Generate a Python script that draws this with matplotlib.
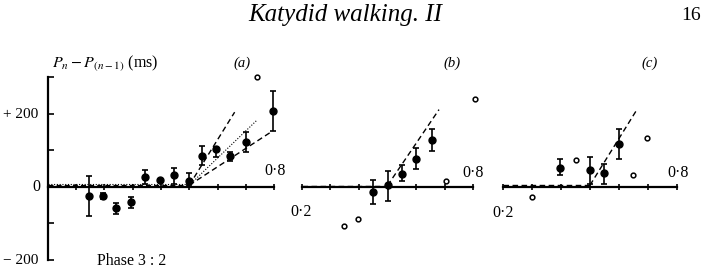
import matplotlib
matplotlib.use("Agg")
import matplotlib.pyplot as plt

plt.rcParams['font.family'] = ['Liberation Serif', 'DejaVu Serif']
plt.rcParams['mathtext.fontset'] = 'stix'

# ---------------- data ----------------
# panel (a)
a_phase = [0.145, 0.195, 0.24, 0.295, 0.345, 0.395, 0.445, 0.5, 0.545, 0.595, 0.645, 0.7, 0.795]
a_mean = [-25, -25, -57, -41, 27, 18, 32, 17, 85, 103, 85, 124, 209]
a_lo = [-80, -33, -75, -58, 9, 14, 9, 5, 60, 83, 71, 97, 154]
a_hi = [30, -17, -44, -28, 46, 22, 52, 37, 113, 110, 97, 152, 262]
a_open_phase = [0.74]
a_open_val = [302]
a_fit_steep = ([0.5, 0.66], [5, 205])
a_fit_mid = ([0.5, 0.74], [5, 184])
a_fit_low = ([0.5, 0.795], [5, 154])
a_flat = ([0.0, 0.5], [5, 5])
a_flat2 = ([0.0, 0.5], [9, 9])

# panel (b)
b_phase = [0.45, 0.5, 0.55, 0.6, 0.655]
b_mean = [-14, 5, 35, 78, 129]
b_lo = [-46, -37, 17, 49, 99]
b_hi = [18, 44, 60, 106, 158]
b_open_phase = [0.347, 0.396, 0.705, 0.805]
b_open_val = [-106, -89, 17, 242]
b_flat = ([0.2, 0.5], [4, 4])
b_fit = ([0.5, 0.68], [4, 212])

# panel (c)
c_phase = [0.395, 0.5, 0.55, 0.6]
c_mean = [53, 46, 37, 117]
c_lo = [32, 9, 9, 76]
c_hi = [76, 81, 64, 159]
c_open_phase = [0.30, 0.45, 0.648, 0.697]
c_open_val = [-28, 74, 32, 134]
c_flat = ([0.2, 0.5], [5, 5])
c_fit = ([0.5, 0.66], [5, 209])

y_ticks = [-200, -100, 0, 100, 200, 300]
# ---------------------------------------

W, H = 703, 276
fig = plt.figure(figsize=(W / 100, H / 100), dpi=100)
fig.patch.set_facecolor('white')

def fx(px):
    return px / W

def fy(py):
    return 1 - py / H

y_bot_px, y_top_px = 260.0, 77.5   # -200 and 300
ylim = (-200, 300)

def make_ax(x0, x1, xlim):
    ax = fig.add_axes([fx(x0), fy(y_bot_px), (x1 - x0) / W, (y_bot_px - y_top_px) / H])
    ax.set_xlim(*xlim)
    ax.set_ylim(*ylim)
    ax.patch.set_alpha(0)
    for s in ['top', 'right', 'left']:
        ax.spines[s].set_visible(False)
    ax.spines['bottom'].set_position(('data', 0))
    ax.spines['bottom'].set_linewidth(1.6)
    ax.set_xticks([round(xlim[0] + 0.1 * i, 2) for i in range(int(round((xlim[1] - xlim[0]) / 0.1)) + 1)])
    ax.set_xticklabels([])
    ax.tick_params(axis='x', direction='inout', length=5, width=1.2)
    ax.set_yticks([])
    return ax

def draw_panel(ax, ph, mean, lo, hi, oph, oval):
    yerr = [[m - l for m, l in zip(mean, lo)], [h - m for m, h in zip(mean, hi)]]
    ax.errorbar(ph, mean, yerr=yerr, fmt='o', color='black', ms=5.0,
                elinewidth=1.2, capsize=2.2, capthick=1.2, clip_on=False, zorder=5)
    ax.plot(oph, oval, 'o', mfc='white', mec='black', ms=3.4, mew=1.1,
            clip_on=False, zorder=5)

dash = (0, (4, 2.5))

# panel (a)
axa = make_ax(47.7, 274.3, (0.0, 0.8))
axa.spines['left'].set_visible(True)
axa.spines['left'].set_linewidth(1.6)
axa.set_yticks(y_ticks)
axa.set_yticklabels([])
axa.tick_params(axis='y', direction='in', length=4, width=1.2)
draw_panel(axa, a_phase, a_mean, a_lo, a_hi, a_open_phase, a_open_val)
axa.plot(*a_flat, color='black', lw=0.9, ls=dash)
axa.plot(*a_flat2, color='black', lw=0.8, ls=(0, (1, 1.5)))
axa.plot(*a_fit_steep, color='black', lw=1.0, ls=dash)
axa.plot(*a_fit_mid, color='black', lw=0.8, ls=(0, (1, 1.5)))
axa.plot(*a_fit_low, color='black', lw=1.0, ls=dash)

# panel (b)
axb = make_ax(301.7, 473.3, (0.2, 0.8))
draw_panel(axb, b_phase, b_mean, b_lo, b_hi, b_open_phase, b_open_val)
axb.plot(*b_flat, color='black', lw=1.0, ls=dash)
axb.plot(*b_fit, color='black', lw=1.0, ls=dash)

# panel (c)
axc = make_ax(503.3, 676.7, (0.2, 0.8))
draw_panel(axc, c_phase, c_mean, c_lo, c_hi, c_open_phase, c_open_val)
axc.plot(*c_flat, color='black', lw=1.0, ls=dash)
axc.plot(*c_fit, color='black', lw=1.0, ls=dash)

# ---------------- text ----------------
fig.text(fx(345.5), fy(15), 'Katydid walking. II', ha='center', va='center',
         fontsize=18, style='italic')
fig.text(fx(701), fy(16), '16', ha='right', va='center', fontsize=14)

fig.text(fx(52), fy(63), r'$P_n - P_{(n-1)}$ (ms)', ha='left', va='center', fontsize=11.5)
fig.text(fx(242), fy(63), '(a)', ha='center', va='center', fontsize=10.5, style='italic')
fig.text(fx(452), fy(63), '(b)', ha='center', va='center', fontsize=10.5, style='italic')
fig.text(fx(650), fy(63), '(c)', ha='center', va='center', fontsize=10.5, style='italic')

fig.text(fx(38), fy(114), '+ 200', ha='right', va='center', fontsize=11)
fig.text(fx(40), fy(187), '0', ha='right', va='center', fontsize=11.5)
fig.text(fx(38), fy(261), '\u2212 200', ha='right', va='center', fontsize=11)
fig.text(fx(97), fy(261), 'Phase 3 : 2', ha='left', va='center', fontsize=11.5)

fig.text(fx(275), fy(171), '0\u00b78', ha='center', va='center', fontsize=11.5)
fig.text(fx(473), fy(173), '0\u00b78', ha='center', va='center', fontsize=11.5)
fig.text(fx(301), fy(212), '0\u00b72', ha='center', va='center', fontsize=11.5)
fig.text(fx(678), fy(173), '0\u00b78', ha='center', va='center', fontsize=11.5)
fig.text(fx(503), fy(213), '0\u00b72', ha='center', va='center', fontsize=11.5)

fig.savefig('out.png', dpi=100)
